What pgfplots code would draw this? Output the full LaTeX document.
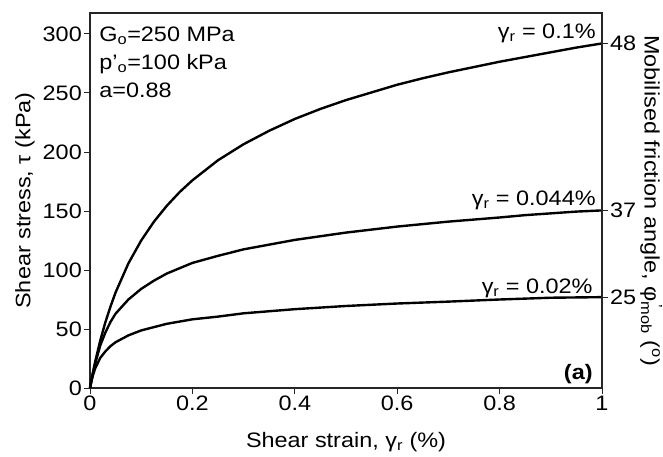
\documentclass[border=0pt]{standalone}
\usepackage{pgfplots}
\pgfplotsset{compat=1.18}
\usepackage{fontspec}
\setmainfont[FakeStretch=1.12]{Liberation Sans}

\pgfplotsset{
  common/.style={
    scale only axis,
    width=512bp, height=375bp,
    at={(90bp,69bp)}, anchor=south west,
    xmin=0, xmax=1, ymin=0, ymax=317.8,
    tick align=outside,
    major tick length=6bp,
    axis line style={line width=1.1pt, black!85},
    every tick/.style={line width=1pt, black!85},
    /pgf/number format/assume math mode=true,
    tick label style={font=\fontsize{21}{23}\selectfont, inner sep=2bp},
    label style={font=\fontsize{21}{25}\selectfont},
  }
}

\begin{document}
\begin{tikzpicture}
\path[use as bounding box] (0,0) rectangle (663bp,457bp);
\begin{axis}[common,
  xtick={0,0.2,0.4,0.6,0.8,1},
  xticklabels={0,0.2,0.4,0.6,0.8,1},
  ytick={0,50,100,150,200,250,300},
  xtick pos=bottom, ytick pos=left,
  xlabel={Shear strain, γ\textsubscript{r} (\%)},
  ylabel={Shear stress, τ (kPa)},
  xlabel style={at={(axis description cs:0.5,-0.144)}, anchor=center},
  ylabel style={at={(axis description cs:-0.127,0.5)}, anchor=center, rotate=0},
  clip=false,
]
\addplot[black, line width=2.4pt] coordinates {
(0,0) (0.005,11.7) (0.01,22.1) (0.02,40.2) (0.03,55.7) (0.04,69) (0.05,81)
(0.075,105.6) (0.1,125) (0.125,141) (0.15,154.4) (0.175,166) (0.2,176)
(0.25,193) (0.3,206.6) (0.35,218) (0.4,228) (0.45,236.5) (0.5,244)
(0.55,250.5) (0.6,257) (0.65,262.5) (0.7,267.5) (0.75,272) (0.8,276.5)
(0.85,280.5) (0.9,284.5) (0.95,288.5) (1.0,292)
};
\addplot[black, line width=2.4pt] coordinates {
(0,0) (0.005,11) (0.01,20.5) (0.02,36) (0.03,47) (0.04,56) (0.05,63)
(0.075,75) (0.1,84) (0.125,91) (0.15,97) (0.2,106) (0.25,112) (0.3,117.5)
(0.35,121.5) (0.4,125.5) (0.5,131.7) (0.6,136.8) (0.7,141) (0.8,144.5)
(0.85,146.5) (0.9,148) (0.95,149.5) (1.0,150.5)
};
\addplot[black, line width=2.4pt] coordinates {
(0,0) (0.005,9.7) (0.01,16.5) (0.02,25.5) (0.03,31) (0.04,35.5) (0.05,38.8)
(0.075,44.6) (0.1,48.8) (0.15,54.4) (0.2,58.2) (0.25,60.5) (0.3,63.3)
(0.4,66.8) (0.5,69.5) (0.6,71.6) (0.7,73.2) (0.8,75) (0.9,76.5) (1.0,77)
};
\begin{scope}[every node/.style={font=\fontsize{21}{25}\selectfont, inner sep=0pt}]
\node[anchor=base west] at (axis cs:0.018,294) {G\textsubscript{o}=250 MPa};
\node[anchor=base west] at (axis cs:0.018,270) {p'\textsubscript{o}=100 kPa};
\node[anchor=base west] at (axis cs:0.018,246) {a=0.88};
\node[anchor=base east] at (axis cs:0.988,296) {γ\textsubscript{r} = 0.1\%};
\node[anchor=base east] at (axis cs:0.988,155) {γ\textsubscript{r} = 0.044\%};
\node[anchor=base east] at (axis cs:0.982,80.5) {γ\textsubscript{r} = 0.02\%};
\node[anchor=base east, font=\fontsize{21}{25}\selectfont\bfseries] at (axis cs:0.982,7.6) {(a)};
\end{scope}
\end{axis}
\begin{axis}[common,
  axis x line=none,
  axis y line*=right,
  ytick={77,150.5,292},
  yticklabels={25,37,48},
  ylabel={Mobilised friction angle, φ\rlap{\textsuperscript{\,'}}\textsubscript{mob} (\textsuperscript{o})},
  ylabel style={at={(axis description cs:1.096,0.5)}, anchor=center, rotate=180},
]
\end{axis}
\end{tikzpicture}
\end{document}
